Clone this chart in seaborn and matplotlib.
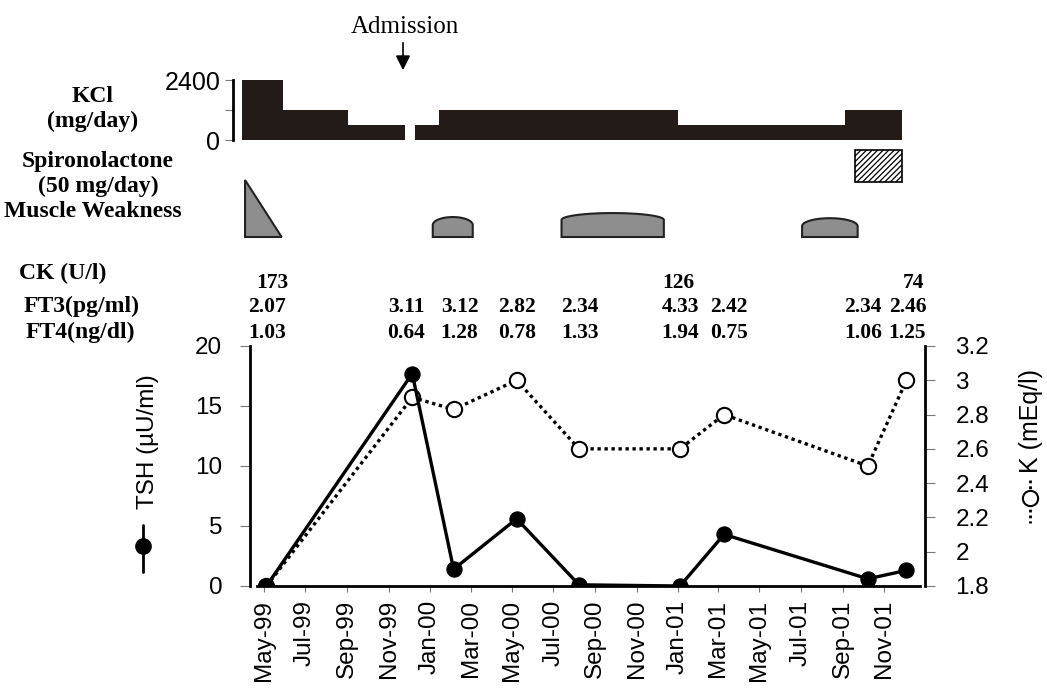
import numpy as np
import pandas as pd
import seaborn as sns
import matplotlib.pyplot as plt
import matplotlib.dates as mdates
from matplotlib.lines import Line2D
from matplotlib.patches import Polygon, Rectangle
from matplotlib.ticker import FuncFormatter
from matplotlib.transforms import blended_transform_factory, ScaledTranslation

# Laboratory sampling dates (TSH, K, FT3, FT4)
sample_dates = ['1999-05-05', '1999-12-06', '2000-02-05', '2000-05-08', '2000-08-08',
                '2001-01-04', '2001-03-10', '2001-10-08', '2001-12-04']
tsh = [0.0, 17.7, 1.4, 5.6, 0.1, 0.0, 4.3, 0.6, 1.3]
potassium = [1.8, 2.9, 2.83, 3.0, 2.6, 2.6, 2.8, 2.5, 3.0]
ft3 = ['2.07', '3.11', '3.12', '2.82', '2.34', '4.33', '2.42', '2.34', '2.46']
ft4 = ['1.03', '0.64', '1.28', '0.78', '1.33', '1.94', '0.75', '1.06', '1.25']
ck_dates = ['1999-05-05', '2001-01-04', '2001-12-04']
ck = ['173', '126', '74']

# KCl dosing periods
kcl_start = ['1999-03-29', '1999-05-29', '1999-09-02', '1999-12-10', '2000-01-14', '2001-01-01', '2001-09-04']
kcl_end = ['1999-05-29', '1999-09-02', '1999-11-25', '2000-01-14', '2001-01-01', '2001-09-04', '2001-11-27']
kcl_dose = [2400, 1200, 600, 600, 1200, 600, 1200]

# Spironolactone period
spiro_start = '2001-09-19'
spiro_end = '2001-11-27'

# Muscle weakness episodes (relative severity)
weak_start = ['1999-04-03', '2000-01-05', '2000-07-13', '2001-07-03']
weak_end = ['1999-05-27', '2000-03-04', '2000-12-11', '2001-09-23']
weak_peak = [1.0, 0.35, 0.42, 0.33]
weak_side = [0.0, 0.21, 0.30, 0.19]

tsh_ticks = [0, 5, 10, 15, 20]
k_ticks = [1.8, 2.0, 2.2, 2.4, 2.6, 2.8, 3.0, 3.2]

# small horizontal nudges (pixels) of the value columns, as typeset in the original
val_nudge = [1, -6, 6, 0, 1, 0, 5, -5, 1]
ck_nudge = [6, -2, 7]

sns.set_style('white')
SANS = ['Liberation Sans', 'DejaVu Sans']
SERIF = ['Liberation Serif', 'DejaVu Serif']
plt.rcParams['font.family'] = SANS
plt.rcParams['text.color'] = 'black'
plt.rcParams['axes.labelcolor'] = 'black'
plt.rcParams['xtick.color'] = 'black'
plt.rcParams['ytick.color'] = 'black'
plt.rcParams['axes.edgecolor'] = 'black'
plt.rcParams['hatch.linewidth'] = 0.9

W, H = 1047, 688
fig = plt.figure(figsize=(W / 100, H / 100), dpi=100)


def box(x0, y0, x1, y1):
    return [x0 / W, 1 - y1 / H, (x1 - x0) / W, (y1 - y0) / H]


def fp(x, y):
    return x / W, 1 - y / H


# ---- main TSH / K chart
df = pd.DataFrame({'date': pd.to_datetime(sample_dates), 'TSH': tsh, 'K': potassium})

ax = fig.add_axes(box(257, 346, 920, 586))
ax2 = ax.twinx()
ax.set_zorder(ax2.get_zorder() + 1)
ax.patch.set_visible(False)

sns.lineplot(data=df, x='date', y='K', ax=ax2, color='black', linewidth=2.4,
             linestyle=(0, (1, 1.1)), marker='o', markersize=11,
             markerfacecolor='white', markeredgecolor='black', markeredgewidth=1.5)
sns.lineplot(data=df, x='date', y='TSH', ax=ax, color='black', linewidth=2.4,
             marker='o', markersize=11, markerfacecolor='black', markeredgecolor='black')

ax.set_xlim(pd.Timestamp('1999-04-21'), pd.Timestamp('2001-12-24'))
ax.set_ylim(0, 20)
ax.set_yticks(tsh_ticks)
ax2.set_ylim(1.8, 3.2)
ax2.set_yticks(k_ticks)
ax2.yaxis.set_major_formatter(FuncFormatter(lambda v, p: f'{v:g}'))
ax.set_xlabel('')
ax.set_ylabel('')
ax2.set_ylabel('')

ax.xaxis.set_major_locator(mdates.MonthLocator(bymonth=[1, 3, 5, 7, 9, 11]))
ax.xaxis.set_major_formatter(mdates.DateFormatter('%b-%y'))

for s in ['top', 'right']:
    ax.spines[s].set_visible(False)
for s in ['top', 'left', 'bottom']:
    ax2.spines[s].set_visible(False)
ax.spines['left'].set_position(('outward', 5))
ax.spines['left'].set_linewidth(2)
ax.spines['bottom'].set_linewidth(2)
ax2.spines['right'].set_position(('outward', 3.6))
ax2.spines['right'].set_linewidth(2)

ax.tick_params(axis='y', left=True, direction='out', length=7, width=0.8,
               color='#777777', pad=13, labelsize=17.5)
ax.tick_params(axis='x', bottom=True, direction='out', length=4, width=0.8,
               color='#777777', pad=6, labelsize=17.5, labelrotation=90)
ax2.tick_params(axis='y', right=True, labelright=True, direction='out', length=7,
                width=0.8, color='#777777', pad=15, labelsize=17.5)

# axis titles with their legend keys
fig.text(*fp(148, 442), 'TSH (µU/ml)', rotation=90, ha='center', va='center', fontsize=17.5)
fig.add_artist(Line2D([143 / W, 143 / W], [1 - 525 / H, 1 - 572 / H], color='black', lw=2,
                      transform=fig.transFigure))
fig.add_artist(Line2D([143 / W], [1 - 546 / H], marker='o', ms=11, mfc='black', mec='black',
                      transform=fig.transFigure))
fig.text(*fp(1031, 421), 'K (mEq/l)', rotation=90, ha='center', va='center', fontsize=18)
fig.add_artist(Line2D([1030 / W, 1030 / W], [1 - 480 / H, 1 - 523 / H], color='black', lw=2,
                      linestyle=(0, (1, 1.1)), transform=fig.transFigure))
fig.add_artist(Line2D([1030 / W], [1 - 498 / H], marker='o', ms=11, mfc='white', mec='black',
                      mew=1.5, transform=fig.transFigure))

# ---- lab value rows
trans = blended_transform_factory(ax.transData, fig.transFigure)
val_kw = dict(fontfamily=SERIF, fontweight='bold', fontsize=15.5, ha='center', va='baseline')


def nudged(px):
    return trans + ScaledTranslation(px / 100, 0, fig.dpi_scale_trans)


for d, v, n in zip(ck_dates, ck, ck_nudge):
    ax.text(mdates.date2num(pd.Timestamp(d)), 1 - 288 / H, v, transform=nudged(n), **val_kw)
for d, v3, v4, n in zip(sample_dates, ft3, ft4, val_nudge):
    xd = mdates.date2num(pd.Timestamp(d))
    ax.text(xd, 1 - 312 / H, v3, transform=nudged(n), **val_kw)
    ax.text(xd, 1 - 338 / H, v4, transform=nudged(n), **val_kw)

lab_kw = dict(fontfamily=SERIF, fontweight='bold', fontsize=17, va='baseline')
fig.text(*fp(19, 279), 'CK (U/l)', ha='left', **lab_kw)
fig.text(*fp(24, 312), 'FT3(pg/ml)', ha='left', **lab_kw)
fig.text(*fp(26, 338), 'FT4(ng/dl)', ha='left', **lab_kw)
fig.text(*fp(93, 102), 'KCl', ha='center', **lab_kw)
fig.text(*fp(93, 127), '(mg/day)', ha='center', **lab_kw)
fig.text(*fp(98, 167), 'Spironolactone', ha='center', **lab_kw)
fig.text(*fp(98, 192), '(50 mg/day)', ha='center', **lab_kw)
fig.text(*fp(93, 217), 'Muscle Weakness', ha='center', **lab_kw)

# ---- top panels share one time scale
xlim_top = (mdates.date2num(pd.Timestamp('1999-03-29 12:00')),
            mdates.date2num(pd.Timestamp('2001-12-24')))

ax_k = fig.add_axes(box(242, 80, 920, 140))
k_left = mdates.date2num(pd.to_datetime(kcl_start))
k_right = mdates.date2num(pd.to_datetime(kcl_end))
ax_k.bar(k_left, kcl_dose, width=k_right - k_left, align='edge', color='#231b18', linewidth=0)
ax_k.set_xlim(*xlim_top)
ax_k.set_ylim(0, 2400)
ax_k.set_xticks([])
ax_k.set_yticks([0, 1200, 2400])
ax_k.set_yticklabels(['0', '', '2400'])
for s in ['top', 'right', 'bottom']:
    ax_k.spines[s].set_visible(False)
ax_k.spines['left'].set_position(('outward', 6.5))
ax_k.spines['left'].set_linewidth(2)
ax_k.tick_params(axis='y', left=True, direction='out', length=6, width=0.8,
                 color='#777777', pad=3, labelsize=18)
ax_k.patch.set_visible(False)

ax_s = fig.add_axes(box(242, 150, 920, 182))
ax_s.set_xlim(*xlim_top)
ax_s.set_ylim(0, 1)
s0 = mdates.date2num(pd.Timestamp(spiro_start))
s1 = mdates.date2num(pd.Timestamp(spiro_end))
ax_s.add_patch(Rectangle((s0, 0), s1 - s0, 1, facecolor='white', edgecolor='black',
                         hatch='//////', linewidth=1.2, clip_on=False))
ax_s.axis('off')

ax_w = fig.add_axes(box(242, 180, 920, 237))
ax_w.set_xlim(*xlim_top)
ax_w.set_ylim(0, 1)
for st, en, pk, sd in zip(weak_start, weak_end, weak_peak, weak_side):
    x0 = mdates.date2num(pd.Timestamp(st))
    x1 = mdates.date2num(pd.Timestamp(en))
    if sd == 0:
        pts = [(x0, 0), (x0, pk), (x1, 0)]
    else:
        t = np.linspace(0, np.pi, 60)
        xc, hw = (x0 + x1) / 2, (x1 - x0) / 2
        arc = list(zip(xc - hw * np.cos(t), sd + (pk - sd) * np.sin(t)))
        pts = [(x0, 0)] + arc + [(x1, 0)]
    ax_w.add_patch(Polygon(pts, closed=True, facecolor='#8e8e8e', edgecolor='#222222',
                           linewidth=1.5, clip_on=False))
ax_w.axis('off')

# ---- admission marker
fig.text(*fp(405, 33), 'Admission', ha='center', va='baseline', fontfamily=SERIF, fontsize=18)
fig.add_artist(plt.Annotation('', xy=fp(403, 73), xytext=fp(403, 40),
                              xycoords='figure fraction', textcoords='figure fraction',
                              arrowprops=dict(arrowstyle='-|>', color='black', lw=1.2,
                                              mutation_scale=22)))

fig.savefig('out.png', dpi=100)
